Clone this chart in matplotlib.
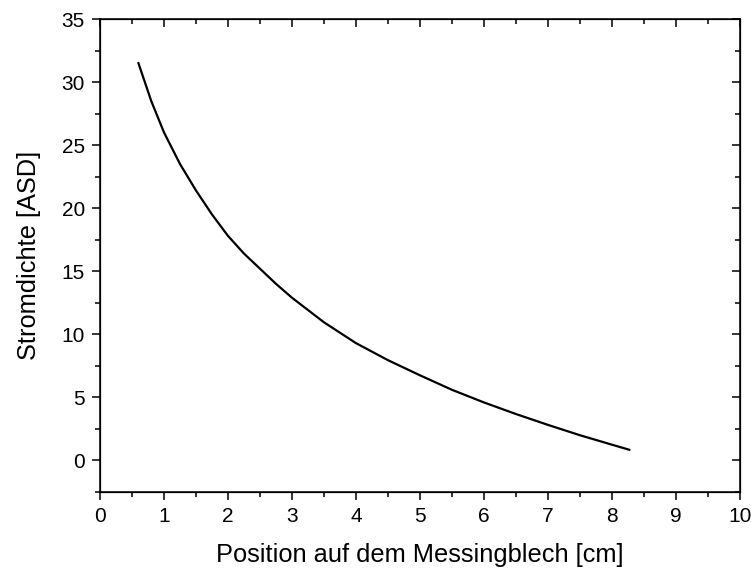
import matplotlib
matplotlib.use("Agg")
import matplotlib.pyplot as plt
from matplotlib.ticker import MultipleLocator

plt.rcParams['font.family'] = ['Liberation Sans', 'DejaVu Sans']

# values
position = [0.6, 0.8, 1.0, 1.25, 1.5, 1.75, 2.0, 2.25, 2.5, 2.75, 3.0, 3.5, 4.0,
            4.5, 5.0, 5.5, 6.0, 6.5, 7.0, 7.5, 8.0, 8.27]
stromdichte = [31.5, 28.5, 26.0, 23.5, 21.4, 19.5, 17.8, 16.4, 15.2, 14.0, 12.9, 10.95, 9.3,
               7.95, 6.75, 5.6, 4.6, 3.68, 2.82, 2.0, 1.25, 0.85]

fig = plt.figure(figsize=(7.51, 5.69), dpi=100)
ax = fig.add_axes([0.1332, 0.1353, 0.8522, 0.8313])

ax.plot(position, stromdichte, color='black', linewidth=1.6)

ax.set_xlim(0, 10)
ax.set_ylim(-2.5, 35)
ax.xaxis.set_major_locator(MultipleLocator(1))
ax.xaxis.set_minor_locator(MultipleLocator(0.5))
ax.yaxis.set_major_locator(MultipleLocator(5))
ax.yaxis.set_minor_locator(MultipleLocator(2.5))

for s in ax.spines.values():
    s.set_linewidth(1.1)

# outward on left/bottom, inward on top/right
ax.tick_params(which='both', direction='out', width=1.1, labelsize=15,
               top=False, right=False, pad=5)
ax.tick_params(which='major', length=6)
ax.tick_params(which='minor', length=3.5)

ax2 = ax.twinx()
ax2.set_ylim(ax.get_ylim())
ax2.yaxis.set_major_locator(MultipleLocator(5))
ax2.yaxis.set_minor_locator(MultipleLocator(2.5))
ax2.tick_params(which='both', direction='in', width=1.1, labelright=False)
ax2.tick_params(which='major', length=6)
ax2.tick_params(which='minor', length=3.5)

ax3 = ax.twiny()
ax3.set_xlim(ax.get_xlim())
ax3.xaxis.set_major_locator(MultipleLocator(1))
ax3.xaxis.set_minor_locator(MultipleLocator(0.5))
ax3.tick_params(which='both', direction='in', width=1.1, labeltop=False)
ax3.tick_params(which='major', length=6)
ax3.tick_params(which='minor', length=3.5)

ax.set_xlabel("Position auf dem Messingblech [cm]", fontsize=18.3, labelpad=12)
ax.set_ylabel("Stromdichte [ASD]", fontsize=18.3, labelpad=15)

fig.savefig("out.png", dpi=100)
